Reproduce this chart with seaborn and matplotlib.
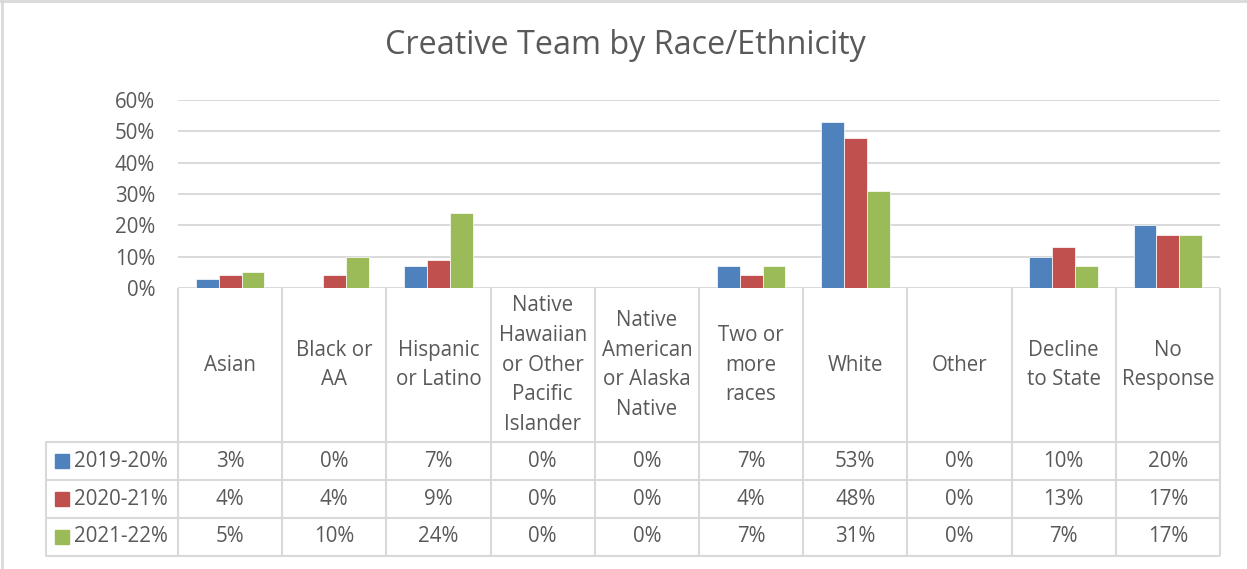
import matplotlib
matplotlib.use("Agg")
import matplotlib.pyplot as plt
import pandas as pd
import seaborn as sns
from matplotlib.patches import Rectangle
from matplotlib.ticker import FuncFormatter
from matplotlib.transforms import blended_transform_factory

# ---- data -------------------------------------------------------------
categories = [
    "Asian",
    "Black or\nAA",
    "Hispanic\nor Latino",
    "Native\nHawaiian\nor Other\nPacific\nIslander",
    "Native\nAmerican\nor Alaska\nNative",
    "Two or\nmore\nraces",
    "White",
    "Other",
    "Decline\nto State",
    "No\nResponse",
]
years = ["2019-20%", "2020-21%", "2021-22%"]
pct_2019_20 = [3, 0, 7, 0, 0, 7, 53, 0, 10, 20]
pct_2020_21 = [4, 4, 9, 0, 0, 4, 48, 0, 13, 17]
pct_2021_22 = [5, 10, 24, 0, 0, 7, 31, 0, 7, 17]
y_ticks = [0, 10, 20, 30, 40, 50, 60]
title = "Creative Team by Race/Ethnicity"

series = [pct_2019_20, pct_2020_21, pct_2021_22]
colors = ["#4F81BD", "#C0504D", "#9BBB59"]
text_col = "#595959"
line_col = "#D9D9D9"
fs = 14.8

df = pd.DataFrame(
    [(c, y, v) for y, vals in zip(years, series) for c, v in zip(categories, vals)],
    columns=["category", "year", "pct"],
)

# ---- figure -----------------------------------------------------------
sns.set_theme(style="white")
plt.rcParams["font.family"] = ["Open Sans", "DejaVu Sans"]

W, H = 1247, 569
fig = plt.figure(figsize=(W / 100, H / 100), dpi=100)
fig.patch.set_facecolor("white")

# pixel-space overlay for the table grid, title and frame
ov = fig.add_axes([0, 0, 1, 1])
ov.set_xlim(0, W)
ov.set_ylim(H, 0)
ov.axis("off")

plot_l, plot_r, plot_t, plot_b = 178, 1220, 100, 288
ax = fig.add_axes([plot_l / W, 1 - plot_b / H, (plot_r - plot_l) / W, (plot_b - plot_t) / H])
ax.set_facecolor("none")

sns.barplot(
    data=df, x="category", y="pct", hue="year", order=categories,
    hue_order=years, palette=colors, saturation=1, width=0.66, gap=0,
    edgecolor="#FFFFFF", linewidth=0.5, ax=ax, legend=False, zorder=3,
)
ax.set_xlim(-0.5, len(categories) - 0.5)
ax.set_ylim(0, 60)
ax.set_yticks(y_ticks)
ax.yaxis.set_major_formatter(FuncFormatter(lambda v, _: f"{v:.0f}%"))
ax.tick_params(axis="y", length=0, pad=16.5, labelsize=fs, labelcolor=text_col)
ax.set_xticks([])
ax.set_xlabel("")
ax.set_ylabel("")
for s in ax.spines.values():
    s.set_visible(False)
ax.grid(axis="y", color=line_col, linewidth=1.4, zorder=0)
ax.set_axisbelow(True)

# ---- data table under the plot ----------------------------------------
tr = blended_transform_factory(ax.transData, ov.transData)
row_tops = [442, 480, 518, 556]
lw = 1.5
n = len(categories)

# horizontal rules
for y in row_tops:
    ov.plot([46, plot_r], [y, y], color=line_col, lw=lw, solid_capstyle="butt")
# left edge of legend column
ov.plot([46, 46], [row_tops[0], row_tops[-1]], color=line_col, lw=lw)
# column separators
for i in range(n + 1):
    ov.plot([i - 0.5, i - 0.5], [plot_b, row_tops[-1]], color=line_col, lw=lw,
            transform=tr, solid_capstyle="butt")

# category headers
for i, c in enumerate(categories):
    ov.text(i, (plot_b + row_tops[0]) / 2, c, transform=tr, ha="center", va="center",
            fontsize=fs, color=text_col, linespacing=1.55, multialignment="center")

# value rows with legend keys
for r, (yr, vals, col) in enumerate(zip(years, series, colors)):
    yc = (row_tops[r] + row_tops[r + 1]) / 2
    ov.add_patch(Rectangle((55, yc - 7), 14, 14, color=col))
    ov.text(74, yc, yr, ha="left", va="center", fontsize=fs, color=text_col)
    for i, v in enumerate(vals):
        ov.text(i, yc, f"{v}%", transform=tr, ha="center", va="center",
                fontsize=fs, color=text_col)

# title and chart frame
ov.text(625, 45, title, ha="center", va="center", fontsize=23.3, color=text_col)
ov.plot([0, W], [1, 1], color=line_col, lw=2)
ov.plot([1.5, 1.5], [0, H], color=line_col, lw=2)

fig.savefig("out.png", dpi=100, facecolor="white")
